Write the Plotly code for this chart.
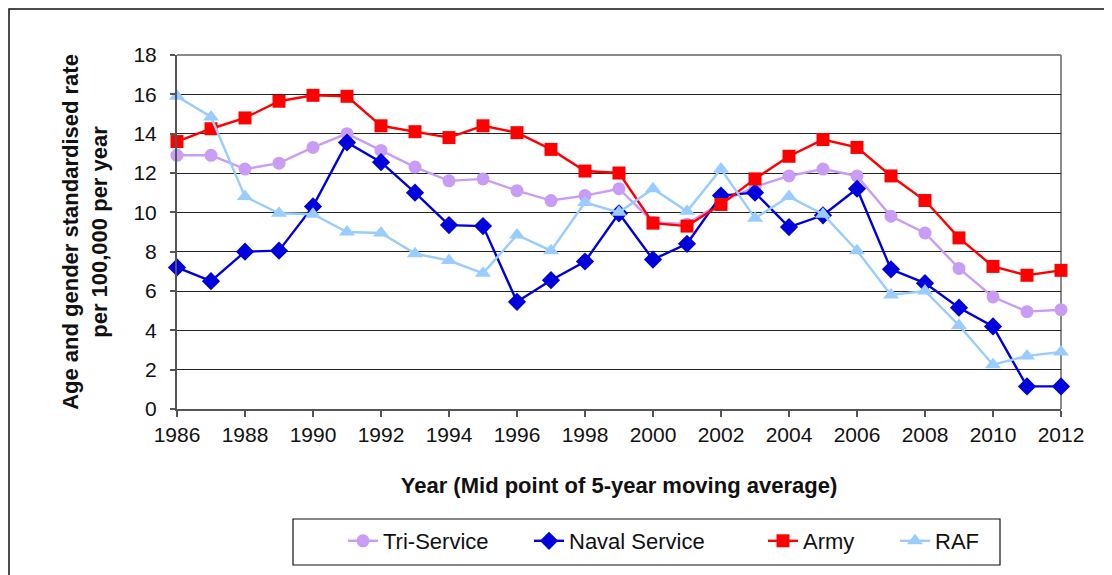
import plotly.graph_objects as go

years = list(range(1986, 2013))
tri_service = [12.9, 12.9, 12.2, 12.5, 13.3, 14.0, 13.15, 12.3, 11.6, 11.7, 11.1, 10.6, 10.85, 11.2,
               9.5, 9.4, 10.5, 11.3, 11.85, 12.2, 11.85, 9.8, 8.95, 7.15, 5.7, 4.95, 5.05]
naval_service = [7.2, 6.5, 8.0, 8.05, 10.3, 13.55, 12.55, 11.0, 9.35, 9.3, 5.45, 6.55, 7.5, 9.95,
                 7.6, 8.4, 10.85, 11.0, 9.25, 9.85, 11.2, 7.1, 6.4, 5.15, 4.2, 1.15, 1.15]
army = [13.6, 14.25, 14.8, 15.65, 15.95, 15.9, 14.4, 14.1, 13.8, 14.4, 14.05, 13.2, 12.1, 12.0,
        9.45, 9.3, 10.4, 11.7, 12.85, 13.7, 13.3, 11.85, 10.6, 8.7, 7.25, 6.8, 7.05]
raf = [15.9, 14.85, 10.8, 9.95, 9.9, 9.0, 8.95, 7.9, 7.55, 6.9, 8.85, 8.05, 10.5, 10.0,
       11.2, 10.05, 12.2, 9.7, 10.8, 9.9, 8.05, 5.8, 6.0, 4.25, 2.25, 2.7, 2.9]

x_ticks = list(range(1986, 2013, 2))
y_ticks = list(range(0, 19, 2))

FONT = "Liberation Sans, Arial, sans-serif"

# page body has an 8px margin; layout numbers below are in page pixels
OFF = 8
W, H = 1112, 575
PL, PR, PT, PB = 177, 1061, 55, 409  # plot area in page pixels
L = PL - OFF
R = W - (PR - OFF)
T = PT - OFF
B = H - (PB - OFF)
pw = PR - PL
ph = PB - PT

def px_x(p):
    return (p - PL) / pw

def px_y(p):
    return (PB - p) / ph

series = [
    ("Tri-Service", tri_service, "#C99CF5", "circle", 13, "legend", 383),
    ("Naval Service", naval_service, "#0000DD", "diamond", 14, "legend2", 569),
    ("Army", army, "#FF0000", "square", 13, "legend3", 803),
    ("RAF", raf, "#99CCFF", "triangle-up", 14, "legend4", 935),
]

fig = go.Figure()
legends = {}
for name, vals, color, sym, size, leg, text_x in series:
    fig.add_trace(go.Scatter(
        x=years, y=vals, name=name, mode="lines+markers",
        line=dict(color=color, width=2.4),
        marker=dict(symbol=sym, size=size, color=color, line=dict(width=0)),
        cliponaxis=False, legend=leg,
    ))
    legends[leg] = dict(
        orientation="h", xref="paper", yref="paper",
        x=px_x(text_x - 40), xanchor="left", y=px_y(541), yanchor="middle",
        bgcolor="rgba(0,0,0,0)", borderwidth=0,
        font=dict(family=FONT, size=22, color="#111111"),
    )

shapes = [
    # outer frame (cut off at right/bottom as in reference)
    dict(type="rect", xref="paper", yref="paper",
         x0=px_x(9), x1=px_x(1140), y0=px_y(600), y1=px_y(9),
         line=dict(color="#111111", width=1.5), fillcolor="rgba(0,0,0,0)", layer="below"),
    # plot area top & right borders (gray)
    dict(type="line", xref="paper", yref="paper", x0=0, x1=1, y0=1, y1=1,
         line=dict(color="#8a8a8a", width=2), layer="below"),
    dict(type="line", xref="paper", yref="paper", x0=1, x1=1, y0=0, y1=1,
         line=dict(color="#8a8a8a", width=2), layer="below"),
    # legend box
    dict(type="rect", xref="paper", yref="paper",
         x0=px_x(293), x1=px_x(1000), y0=px_y(565), y1=px_y(519),
         line=dict(color="#111111", width=1.2), fillcolor="white", layer="below"),
]

fig.update_layout(
    width=W, height=H,
    margin=dict(l=L, r=R, t=T, b=B),
    paper_bgcolor="white", plot_bgcolor="white",
    font=dict(family=FONT, size=22, color="#111111"),
    showlegend=True,
    shapes=shapes,
    xaxis=dict(
        range=[1986, 2012], tickmode="array", tickvals=x_ticks,
        ticktext=[str(v) for v in x_ticks],
        showgrid=False, zeroline=False,
        showline=True, linecolor="#555555", linewidth=2,
        ticks="outside", ticklen=6, tickwidth=1.5, tickcolor="#555555",
        tickfont=dict(family=FONT, size=21, color="#111111"),
        title=dict(text="<b>Year (Mid point of 5-year moving average)</b>",
                   font=dict(family=FONT, size=22, color="#111111"), standoff=32),
    ),
    yaxis=dict(
        range=[0, 18], tickmode="array", tickvals=y_ticks,
        showgrid=True, gridcolor="#222222", gridwidth=1.3, zeroline=False,
        showline=True, linecolor="#555555", linewidth=2,
        ticks="outside", ticklen=5, tickwidth=1.5, tickcolor="#555555",
        ticklabelstandoff=9,
        tickfont=dict(family=FONT, size=21, color="#111111"),
        title=dict(text="<b>Age and gender standardised rate<br>per 100,000 per year</b>",
                   font=dict(family=FONT, size=22, color="#111111"), standoff=20),
    ),
    **legends,
)

fig.write_html("out.html")
